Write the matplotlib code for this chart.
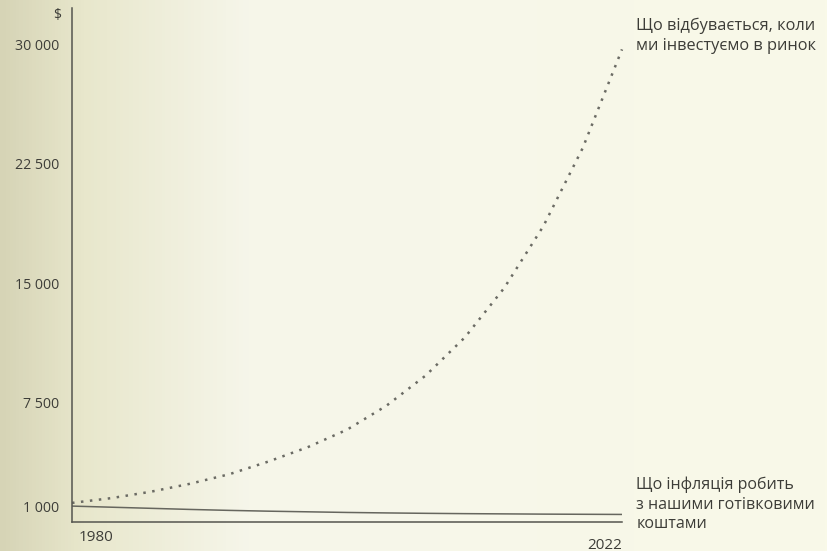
import matplotlib.pyplot as plt
import numpy as np
from matplotlib.colors import LinearSegmentedColormap

# values
years = [1980, 1983, 1986, 1989, 1992, 1995, 1998, 2001, 2004, 2007, 2010, 2013, 2016, 2019, 2022]
invested = [1200, 1500, 1900, 2400, 3000, 3800, 4700, 5800, 7300, 9200, 11600, 14700, 18600, 23500, 29700]
cash = [1000, 930, 860, 790, 730, 680, 640, 600, 570, 545, 525, 510, 495, 485, 475]
ytick_vals = [1000, 7500, 15000, 22500, 30000]
ytick_text = ["1 000", "7 500", "15 000", "22 500", "30 000"]
label_invest = "Що відбувається, коли\nми інвестуємо в ринок"
label_cash = "Що інфляція робить\nз нашими готівковими\nкоштами"

ink = "#3d3d38"
plt.rcParams['font.family'] = ['Open Sans', 'DejaVu Sans']

fig = plt.figure(figsize=(8.28, 5.51), dpi=100)

# paper background: yellowish on the left, lighter towards the right
bg = fig.add_axes([0, 0, 1, 1])
paper = LinearSegmentedColormap.from_list(
    "paper", [(0, "#d6d4b6"), (0.1, "#e8e7cc"), (0.3, "#f6f6ea"), (1, "#f9f9e8")])
bg.imshow(np.linspace(0, 1, 256).reshape(1, -1), cmap=paper, aspect='auto', extent=[0, 1, 0, 1])
bg.axis('off')

ax = fig.add_axes([72 / 828, 1 - 522 / 551, (622 - 72) / 828, (522 - 8) / 551])
ax.patch.set_alpha(0)
ax.set_xlim(1980, 2022)
ax.set_ylim(0, 32300)

ax.plot(years, invested, linestyle=(0, (1, 2.6)), color="#6b6b64", linewidth=1.8, clip_on=False)
ax.plot(years, cash, color="#66665e", linewidth=1.1)

for s in ['top', 'right']:
    ax.spines[s].set_visible(False)
for s in ['left', 'bottom']:
    ax.spines[s].set_color("#55554f")
    ax.spines[s].set_linewidth(1.1)

ax.set_yticks(ytick_vals)
ax.set_yticklabels(ytick_text, fontsize=10.2, color=ink)
ax.tick_params(axis='y', length=0, pad=9)
ax.set_xticks([])

ax.text(1980.5, -1000, "1980", fontsize=11, color=ink, ha='left', va='center')
ax.text(2022, -1450, "2022", fontsize=11, color=ink, ha='right', va='center')
ax.text(-0.02, 1.0, "$", transform=ax.transAxes, fontsize=10, color=ink, ha='right', va='top')

ax.text(2023.1, 31700, label_invest, fontsize=11.8, color=ink, ha='left', va='top',
        linespacing=1.3, clip_on=False)
ax.text(2023.1, -650, label_cash, fontsize=11.5, color=ink, ha='left', va='bottom',
        linespacing=1.3, clip_on=False)

fig.savefig("out.png", dpi=100)
